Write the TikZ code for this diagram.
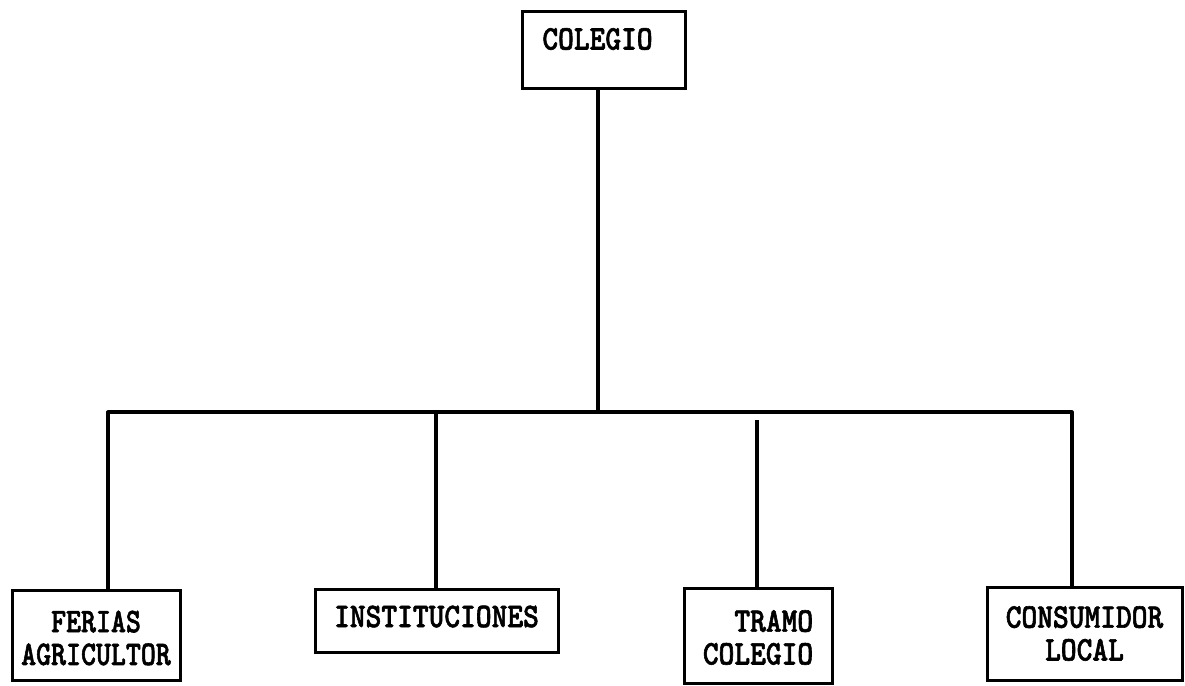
\documentclass[tikz,border=0pt]{standalone}
\usepackage{fontspec}
\newfontfamily\typefont{lmmonolt10-bold}[Extension=.otf,FakeBold=1.8]
% one or more centred lines of heavy typewriter lettering
\newcommand{\boxtext}[2][c]{\scalebox{1}[1.15]{\begin{tabular}{@{}#1@{}}#2\end{tabular}}}
% the same, set a little below the middle of its box
\newcommand{\lowtext}[3][c]{\raisebox{#2}[\height][\depth]{\boxtext[#1]{#3}}}
\begin{document}
\begin{tikzpicture}[x=1pt,y=-1pt,
  orgbox/.style={draw=black,line width=3pt,inner sep=0pt,
    font=\typefont\fontsize{30}{28.5}\selectfont,align=center},
  link/.style={draw=black,line width=3.2pt}]
  \useasboundingbox (0,0) rectangle (1185,685);

  % top unit
  \node[orgbox,minimum width=163pt,minimum height=76pt] (top) at (604,50)
    {\raisebox{7pt}[\height][\depth]{\boxtext{COLEGIO}}\hspace{13pt}};

  % units below
  \node[orgbox,minimum width=168pt,minimum height=90pt] (ferias) at (96,635)
    {\raisebox{-7pt}[\height][\depth]{\scalebox{0.95}[1]{\boxtext{FERIAS\\AGRICULTOR}}}};
  \node[orgbox,minimum width=243pt,minimum height=63pt] (inst) at (436.5,620.5)
    {\boxtext{INSTITUCIONES}};
  \node[orgbox,minimum width=148pt,minimum height=95pt] (tramo) at (758,635.5)
    {\lowtext[r]{-6pt}{TRAMO\\COLEGIO}};
  \node[orgbox,minimum width=195pt,minimum height=93pt] (consum) at (1084.5,633.5)
    {\lowtext{-4pt}{CONSUMIDOR\\LOCAL}};

  % junction points on the horizontal bar
  \coordinate (jT) at (598,412);
  \coordinate (jL) at (108,412);
  \coordinate (jI) at (436,412);
  \coordinate (jR) at (1072,412);
  \coordinate (tT) at (757,420);

  \draw[link] (top.south -| jT) -- (jT);
  \draw[link,line join=round] (jL |- ferias.north) -- (jL) -- (jR) -- (jR |- consum.north);
  \draw[link] (jI) -- (jI |- inst.north);
  \draw[link] (tT) -- (tT |- tramo.north);
\end{tikzpicture}
\end{document}
